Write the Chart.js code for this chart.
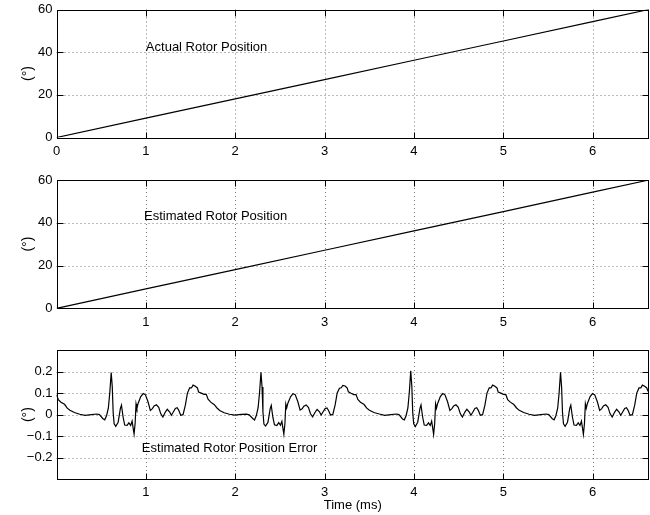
<!DOCTYPE html>
<html lang="en">
<head>
<meta charset="UTF-8">
<title>Rotor Position</title>
<script src="https://cdn.jsdelivr.net/npm/chart.js@4.4.1/dist/chart.umd.min.js"></script>
<style>
  html, body { margin: 0; padding: 0; background: #fff; overflow: hidden; }
  canvas { position: absolute; left: 0; }
</style>
</head>
<body>
<canvas id="actual" width="650" height="160" style="top:0"></canvas>
<canvas id="estimated" width="650" height="165" style="top:170px"></canvas>
<canvas id="error" width="650" height="175" style="top:340px"></canvas>
<script>
const FONT = '"Liberation Sans", Arial, Helvetica, sans-serif';

// axis ticks
const timeTicks = [0, 1, 2, 3, 4, 5, 6];
const timeTicksLower = [1, 2, 3, 4, 5, 6];
const posTicks = [0, 20, 40, 60];
const errTicks = [-0.2, -0.1, 0, 0.1, 0.2];
const timeMax = 6.63;

// rotor position (deg) vs time (ms)
const posTime = [0, 1, 2, 3, 4, 5, 6, 6.63];
const actualPos = [0, 9.05, 18.1, 27.15, 36.2, 45.25, 54.3, 60];
const estimatedPos = [0, 9.05, 18.1, 27.15, 36.2, 45.25, 54.3, 60];

// position error (deg), one commutation interval per array
const errTime1 = [0.000, 0.020, 0.050, 0.090, 0.120, 0.150, 0.200, 0.260, 0.320, 0.390,
  0.450, 0.480, 0.520, 0.540, 0.560, 0.580, 0.596, 0.612, 0.624, 0.634,
  0.645, 0.663, 0.690, 0.715, 0.727, 0.745, 0.763, 0.790, 0.810, 0.830,
  0.846, 0.857, 0.868, 0.880, 0.890, 0.900, 0.913, 0.943, 0.970, 0.995,
  1.024, 1.050, 1.073, 1.092, 1.118, 1.144, 1.166, 1.190, 1.218, 1.240,
  1.267, 1.285, 1.304, 1.330, 1.350, 1.368, 1.390, 1.416, 1.442, 1.465,
  1.490, 1.510, 1.528, 1.554, 1.577, 1.590, 1.620, 1.650];
const errVal1 = [0.092, 0.070, 0.058, 0.048, 0.030, 0.020, 0.010, 0.002, -0.003, 0.000,
  0.003, 0.000, -0.019, -0.024, -0.005, 0.030, 0.100, 0.195, 0.130, 0.010,
  -0.043, -0.054, -0.035, 0.029, 0.044, -0.011, -0.048, -0.050, -0.038, -0.050,
  -0.030, -0.060, -0.090, -0.040, 0.050, 0.030, 0.052, 0.084, 0.098, 0.092,
  0.060, 0.020, 0.028, 0.040, 0.046, 0.034, 0.005, -0.011, 0.012, 0.025,
  0.012, -0.003, 0.010, 0.029, 0.032, 0.020, -0.003, 0.000, 0.044, 0.100,
  0.124, 0.124, 0.137, 0.132, 0.124, 0.105, 0.100, 0.094];

const errTime2 = [1.676, 1.696, 1.726, 1.766, 1.796, 1.826, 1.876, 1.936, 1.996, 2.066,
  2.126, 2.156, 2.196, 2.216, 2.236, 2.256, 2.272, 2.288, 2.300, 2.310,
  2.321, 2.339, 2.366, 2.391, 2.403, 2.421, 2.439, 2.466, 2.486, 2.506,
  2.522, 2.533, 2.544, 2.556, 2.566, 2.576, 2.589, 2.619, 2.646, 2.671,
  2.700, 2.726, 2.749, 2.768, 2.794, 2.820, 2.842, 2.866, 2.894, 2.916,
  2.943, 2.961, 2.980, 3.006, 3.026, 3.044, 3.066, 3.092, 3.118, 3.141,
  3.166, 3.186, 3.204, 3.230, 3.253, 3.266, 3.296, 3.326];
const errVal2 = [0.094, 0.072, 0.058, 0.046, 0.031, 0.019, 0.009, 0.002, -0.002, 0.001,
  0.002, -0.001, -0.018, -0.025, -0.004, 0.032, 0.102, 0.197, 0.128, 0.012,
  -0.044, -0.053, -0.036, 0.028, 0.043, -0.012, -0.047, -0.051, -0.037, -0.049,
  -0.031, -0.061, -0.091, -0.041, 0.049, 0.031, 0.053, 0.083, 0.097, 0.093,
  0.061, 0.021, 0.027, 0.039, 0.045, 0.033, 0.004, -0.010, 0.011, 0.024,
  0.013, -0.002, 0.011, 0.028, 0.031, 0.019, -0.002, 0.001, 0.045, 0.101,
  0.123, 0.125, 0.136, 0.133, 0.123, 0.106, 0.099, 0.093];

const errTime3 = [3.352, 3.372, 3.402, 3.442, 3.472, 3.502, 3.552, 3.612, 3.672, 3.742,
  3.802, 3.832, 3.872, 3.892, 3.912, 3.932, 3.948, 3.964, 3.976, 3.986,
  3.997, 4.015, 4.042, 4.067, 4.079, 4.097, 4.115, 4.142, 4.162, 4.182,
  4.198, 4.209, 4.220, 4.232, 4.242, 4.252, 4.265, 4.295, 4.322, 4.347,
  4.376, 4.402, 4.425, 4.444, 4.470, 4.496, 4.518, 4.542, 4.570, 4.592,
  4.619, 4.637, 4.656, 4.682, 4.702, 4.720, 4.742, 4.768, 4.794, 4.817,
  4.842, 4.862, 4.880, 4.906, 4.929, 4.942, 4.972, 5.002];
const errVal3 = [0.093, 0.071, 0.057, 0.047, 0.030, 0.020, 0.010, 0.003, -0.003, 0.000,
  0.003, 0.000, -0.020, -0.024, -0.005, 0.031, 0.104, 0.203, 0.132, 0.011,
  -0.043, -0.055, -0.035, 0.029, 0.045, -0.011, -0.048, -0.050, -0.038, -0.050,
  -0.030, -0.060, -0.092, -0.040, 0.050, 0.030, 0.052, 0.084, 0.098, 0.092,
  0.060, 0.020, 0.028, 0.040, 0.046, 0.034, 0.005, -0.011, 0.012, 0.025,
  0.012, -0.003, 0.010, 0.029, 0.032, 0.020, -0.003, 0.000, 0.044, 0.100,
  0.124, 0.124, 0.137, 0.132, 0.124, 0.105, 0.100, 0.094];

const errTime4 = [5.028, 5.048, 5.078, 5.118, 5.148, 5.178, 5.228, 5.288, 5.348, 5.418,
  5.478, 5.508, 5.548, 5.568, 5.588, 5.608, 5.624, 5.640, 5.652, 5.662,
  5.673, 5.691, 5.718, 5.743, 5.755, 5.773, 5.791, 5.818, 5.838, 5.858,
  5.874, 5.885, 5.896, 5.908, 5.918, 5.928, 5.941, 5.971, 5.998, 6.023,
  6.052, 6.078, 6.101, 6.120, 6.146, 6.172, 6.194, 6.218, 6.246, 6.268,
  6.295, 6.313, 6.332, 6.358, 6.378, 6.396, 6.418, 6.444, 6.470, 6.493,
  6.518, 6.538, 6.556, 6.582, 6.605, 6.618, 6.630];
const errVal4 = [0.093, 0.070, 0.058, 0.047, 0.031, 0.020, 0.010, 0.002, -0.003, 0.000,
  0.003, 0.000, -0.019, -0.024, -0.005, 0.030, 0.100, 0.196, 0.128, 0.010,
  -0.043, -0.054, -0.035, 0.029, 0.044, -0.011, -0.048, -0.050, -0.038, -0.050,
  -0.030, -0.060, -0.092, -0.040, 0.050, 0.030, 0.052, 0.084, 0.098, 0.092,
  0.060, 0.020, 0.028, 0.040, 0.046, 0.034, 0.005, -0.011, 0.012, 0.025,
  0.012, -0.003, 0.010, 0.029, 0.032, 0.020, -0.003, 0.000, 0.044, 0.100,
  0.124, 0.124, 0.137, 0.132, 0.124, 0.110, 0.104];

const errTime = [...errTime1, ...errTime2, ...errTime3, ...errTime4];
const errVal = [...errVal1, ...errVal2, ...errVal3, ...errVal4];

const toPoints = (xs, ys) => xs.map((x, i) => ({ x, y: ys[i] }));

// dotted grid under the trace, frame + inward ticks + note on top
const axesBox = {
  id: 'axesBox',
  beforeDatasetsDraw(chart) {
    const { ctx, chartArea: a, scales: { x, y } } = chart;
    ctx.save();
    ctx.strokeStyle = '#777';
    ctx.lineWidth = 1;
    ctx.setLineDash([1, 3]);
    ctx.beginPath();
    x.ticks.forEach(t => {
      const px = Math.round(x.getPixelForValue(t.value)) + 0.5;
      if (px > a.left + 2 && px < a.right - 2) { ctx.moveTo(px, a.top); ctx.lineTo(px, a.bottom); }
    });
    y.ticks.forEach(t => {
      const py = Math.round(y.getPixelForValue(t.value)) + 0.5;
      if (py > a.top + 2 && py < a.bottom - 2) { ctx.moveTo(a.left, py); ctx.lineTo(a.right, py); }
    });
    ctx.stroke();
    ctx.restore();
  },
  afterDatasetsDraw(chart, args, opts) {
    const { ctx, chartArea: a, scales: { x, y } } = chart;
    const L = Math.round(a.left) + 0.5, R = Math.round(a.right) - 0.5;
    const T = Math.round(a.top) + 0.5, B = Math.round(a.bottom) + 0.5;
    const len = 6;
    ctx.save();
    ctx.strokeStyle = '#000';
    ctx.lineWidth = 1;
    ctx.beginPath();
    x.ticks.forEach(t => {
      const px = Math.round(x.getPixelForValue(t.value)) + 0.5;
      ctx.moveTo(px, B); ctx.lineTo(px, B - len);
      ctx.moveTo(px, T); ctx.lineTo(px, T + len);
    });
    y.ticks.forEach(t => {
      const py = Math.round(y.getPixelForValue(t.value)) + 0.5;
      ctx.moveTo(L, py); ctx.lineTo(L + len, py);
      ctx.moveTo(R, py); ctx.lineTo(R - len, py);
    });
    ctx.stroke();
    ctx.strokeRect(L, T, R - L, B - T);
    if (opts.note) {
      ctx.fillStyle = '#000';
      ctx.font = '13px ' + FONT;
      ctx.textAlign = 'left';
      ctx.textBaseline = 'middle';
      ctx.fillText(opts.note, x.getPixelForValue(opts.at[0]), y.getPixelForValue(opts.at[1]));
    }
    ctx.restore();
  }
};

function panel(id, o) {
  return new Chart(document.getElementById(id), {
    type: 'line',
    data: {
      datasets: [{
        data: o.points,
        borderColor: '#000',
        borderWidth: 1.2,
        pointRadius: 0,
        tension: 0,
        fill: false
      }]
    },
    options: {
      responsive: false,
      animation: false,
      devicePixelRatio: 1,
      layout: { padding: { top: o.top, right: 1, left: 0, bottom: 0 } },
      plugins: {
        legend: { display: false },
        tooltip: { enabled: false },
        axesBox: { note: o.note, at: o.noteAt }
      },
      scales: {
        x: {
          type: 'linear',
          min: 0,
          max: timeMax,
          afterBuildTicks: s => { s.ticks = o.xTicks.map(v => ({ value: v })); },
          afterFit: s => { s.height = o.xHeight; s.paddingLeft = 0; s.paddingRight = 0; },
          grid: { display: false, drawTicks: false },
          border: { display: false },
          ticks: {
            color: '#000', font: { family: FONT, size: 13 }, padding: o.xPad,
            maxRotation: 0, autoSkip: false, callback: v => String(v)
          },
          title: {
            display: !!o.xTitle, text: o.xTitle || '', color: '#000',
            font: { family: FONT, size: 13 }, padding: { top: 0, bottom: 2 }
          }
        },
        y: {
          min: o.yMin,
          max: o.yMax,
          afterBuildTicks: s => { s.ticks = o.yTicks.map(v => ({ value: v })); },
          afterFit: s => { s.width = 56.5; s.paddingTop = 0; s.paddingBottom = 0; },
          grid: { display: false, drawTicks: false },
          border: { display: false },
          ticks: {
            color: '#000', font: { family: FONT, size: 13 }, padding: 4,
            autoSkip: false, callback: o.yFmt
          },
          title: {
            display: true, text: '(°)', color: '#000',
            font: { family: FONT, size: 14 }, padding: { top: 20, bottom: 0 }
          }
        }
      }
    },
    plugins: [axesBox]
  });
}

const posFmt = v => String(v);
const errFmt = v => v === 0 ? '0' : (v < 0 ? '\u2212' : '') + Math.abs(v).toFixed(1);

panel('actual', {
  points: toPoints(posTime, actualPos), top: 9.5, xHeight: 22.5, xPad: 6,
  xTicks: timeTicks, yTicks: posTicks, yMin: 0, yMax: 60, yFmt: posFmt,
  note: 'Actual Rotor Position', noteAt: [1.0, 42]
});
panel('estimated', {
  points: toPoints(posTime, estimatedPos), top: 10, xHeight: 26.7, xPad: 6,
  xTicks: timeTicksLower, yTicks: posTicks, yMin: 0, yMax: 60, yFmt: posFmt,
  note: 'Estimated Rotor Position', noteAt: [0.98, 42.8]
});
panel('error', {
  points: toPoints(errTime, errVal), top: 10, xHeight: 35.7, xPad: 5,
  xTicks: timeTicksLower, yTicks: errTicks, yMin: -0.3, yMax: 0.3, yFmt: errFmt,
  note: 'Estimated Rotor Position Error', noteAt: [0.955, -0.157],
  xTitle: 'Time (ms)'
});
</script>
</body>
</html>
